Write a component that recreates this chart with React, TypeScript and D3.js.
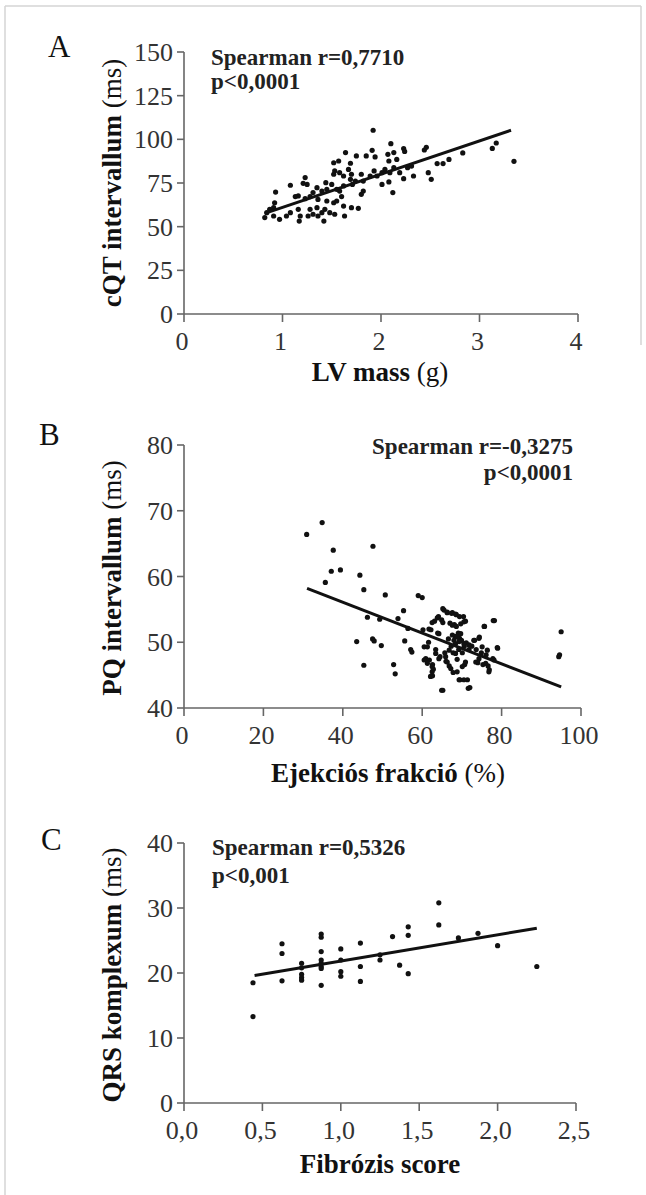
import React from "react";
import * as d3 from "d3";

// ---------- Panel A: LV mass (g) vs cQT (ms)
const aX = [1.92,2.10,2.23,2.24,2.46,2.44,3.13,3.17,3.35,2.83,2.69,2.63,2.57,2.48,2.51,2.33,2.23,2.27,2.31,1.64,1.75,1.85,1.91,1.94,2.07,2.08,2.13,2.16,1.52,1.57,1.69,1.67,1.53,1.52,1.58,1.62,1.70,1.69,1.80,1.82,1.89,1.93,1.96,2.01,2.04,2.09,2.13,2.19,2.01,2.08,2.12,1.82,1.80,1.71,1.74,1.62,1.58,1.60,1.55,1.50,1.44,1.45,1.40,1.35,1.31,1.25,1.21,1.23,1.08,1.16,1.13,1.23,1.28,1.36,1.45,1.52,1.55,0.93,0.92,0.91,0.87,0.84,0.82,0.91,0.97,1.04,1.08,1.16,1.18,1.17,1.26,1.28,1.35,1.36,1.42,1.43,1.48,1.53,1.63,1.62,1.70,1.77,1.31,1.40];
const aY = [105.2,97.5,94.7,93.1,95.4,93.9,94.8,97.9,87.4,92.2,88.5,86.1,86.1,80.9,77.1,79.0,77.5,83.8,84.7,92.4,90.5,90.5,93.7,89.9,91.4,87.6,92.4,88.5,86.6,87.6,86.3,82.8,81.9,80.0,80.9,79.0,80.0,77.1,80.0,76.1,79.0,81.9,79.0,80.9,82.8,80.9,83.8,80.9,74.2,75.6,69.5,70.4,68.5,74.2,76.1,73.3,70.4,67.2,71.4,74.2,75.2,71.4,70.4,72.3,69.5,74.2,74.8,78.1,73.7,67.6,67.2,66.0,67.2,65.6,64.7,63.7,64.7,69.8,63.7,60.9,59.9,58.0,55.2,56.1,54.2,56.1,58.0,59.9,56.1,53.2,56.1,59.9,60.9,56.1,53.2,59.9,58.0,57.1,56.1,61.8,60.9,60.5,57.1,58.0];
const aLineX = [0.82, 3.32];
const aLineY = [57.6, 105.2];
const aXTicks = [0, 1, 2, 3, 4];
const aXTickLabels = ["0", "1", "2", "3", "4"];
const aYTicks = [0, 25, 50, 75, 100, 125, 150];
const aYTickLabels = ["0", "25", "50", "75", "100", "125", "150"];

// ---------- Panel B: Ejection fraction (%) vs PQ (ms)
const bX = [30.9,34.8,35.6,37.1,37.6,39.4,43.5,44.3,45.3,45.3,46.2,47.5,47.6,47.9,49.3,49.7,50.7,52.8,53.2,53.9,55.3,55.6,56.4,57.1,57.4,59.0,60.0,60.2,60.5,60.9,61.6,61.8,62.2,62.6,62.8,62.6,63.1,63.4,63.9,64.1,64.5,64.9,65.2,65.5,65.7,66.0,66.3,66.6,66.8,67.0,67.3,67.6,67.8,67.8,68.1,68.3,68.4,68.6,68.8,69.1,69.2,69.4,69.5,69.7,69.9,70.1,70.4,70.6,70.7,70.9,71.1,71.4,71.8,72.0,72.5,73.2,73.6,74.0,74.4,74.9,75.3,75.7,76.1,76.6,76.9,77.8,78.2,79.0,94.4,94.6,95.0,
  65.2,66.3,67.4,68.4,69.4,70.5,63.8,62.5,65.2,67.6,68.6,75.6,77.9,61.7,64.2,67.6,68.8,69.7,68.0,69.3,70.5,71.8,73.0,74.3,75.1,76.4,78.9,66.8,68.4,65.9,64.2,63.4,61.3,60.5,61.3,62.5,62.5,62.1,66.3,67.2,68.8,70.1,70.9,69.3,70.5,71.6,64.9,73.5,74.3,76.0,76.8,78.1];
const bY = [66.4,68.2,59.1,60.8,64.0,61.0,50.1,60.2,58.0,46.5,53.8,50.5,64.6,50.2,53.5,49.5,57.2,46.6,45.2,53.6,54.8,50.2,52.1,48.9,48.5,57.1,56.8,51.9,49.3,47.5,50.0,47.3,51.9,46.6,45.9,44.9,53.2,48.9,51.4,53.9,47.8,53.4,42.7,54.9,48.4,47.1,54.5,50.5,46.4,52.9,49.4,54.5,48.4,45.4,52.7,50.9,49.8,54.2,47.4,51.4,48.9,50.6,44.3,52.8,50.3,48.4,53.9,49.4,46.6,53.2,49.9,44.3,48.9,43.1,49.4,50.3,48.9,46.9,50.8,48.4,46.6,52.4,48.1,46.4,45.8,47.5,53.3,49.1,47.8,48.1,51.6,
  55.1,54.6,54.4,54.3,53.9,53.1,53.7,53.0,53.0,52.6,52.4,52.4,53.3,52.0,51.3,51.1,50.8,51.3,50.3,50.1,49.8,49.6,50.3,50.6,49.3,48.8,49.2,48.8,48.3,47.8,47.5,48.3,49.3,47.3,46.8,46.3,45.5,44.8,47.0,46.0,45.5,46.3,47.0,44.3,44.3,43.0,42.7,47.0,47.5,46.8,45.5,47.3];
const bLineX = [31, 95];
const bLineY = [58.2, 43.2];
const bXTicks = [0, 20, 40, 60, 80, 100];
const bXTickLabels = ["0", "20", "40", "60", "80", "100"];
const bYTicks = [40, 50, 60, 70, 80];
const bYTickLabels = ["40", "50", "60", "70", "80"];

// ---------- Panel C: Fibrosis score vs QRS (ms)
const cX = [0.44,0.44,0.625,0.625,0.625,0.75,0.75,0.75,0.75,0.75,0.875,0.875,0.875,0.875,0.875,0.875,0.875,0.875,1.0,1.0,1.0,1.0,1.125,1.125,1.125,1.25,1.25,1.33,1.375,1.43,1.43,1.43,1.625,1.625,1.75,1.875,2.0,2.25];
const cY = [18.5,13.3,24.5,23.0,18.8,21.5,20.8,19.8,19.3,18.9,26.0,25.5,23.3,22.0,21.5,21.0,20.7,18.1,23.7,22.0,20.2,19.5,24.6,21.0,18.7,22.8,22.0,25.6,21.2,27.1,25.8,19.9,30.8,27.4,25.4,26.1,24.2,21.0];
const cLineX = [0.45, 2.25];
const cLineY = [19.6, 26.9];
const cXTicks = [0, 0.5, 1, 1.5, 2, 2.5];
const cXTickLabels = ["0,0", "0,5", "1,0", "1,5", "2,0", "2,5"];
const cYTicks = [0, 10, 20, 30, 40];
const cYTickLabels = ["0", "10", "20", "30", "40"];

const FONT = "'Liberation Serif', 'Times New Roman', serif";
const AXIS = "#666";
const INK = "#111";

type PanelProps = {
  letter: string;
  letterX: number;
  letterY: number;
  xDomain: [number, number];
  xRange: [number, number];
  yDomain: [number, number];
  yRange: [number, number];
  xs: number[];
  ys: number[];
  lineX: number[];
  lineY: number[];
  xTicks: number[];
  xTickLabels: string[];
  yTicks: number[];
  yTickLabels: string[];
  xTitleBold: string;
  xTitleReg: string;
  xTitleX: number;
  xTitleY: number;
  yTitleBold: string;
  yTitleReg: string;
  yTitleCY: number;
  stat1: string;
  stat2: string;
  statX: number;
  statY1: number;
  statY2: number;
  statAnchor: "start" | "end";
};

function Panel(p: PanelProps) {
  const x = d3.scaleLinear().domain(p.xDomain).range(p.xRange);
  const y = d3.scaleLinear().domain(p.yDomain).range(p.yRange);
  const x0 = p.xRange[0];
  const yBase = p.yRange[0];
  const lineGen = d3
    .line<number>()
    .x((_, i) => x(p.lineX[i]))
    .y((d) => y(d));
  return (
    <g>
      <text x={p.letterX} y={p.letterY} fontFamily={FONT} fontSize={31} fill={INK}>
        {p.letter}
      </text>
      {/* axes */}
      <line x1={x0} x2={x0} y1={p.yRange[1]} y2={yBase} stroke={AXIS} strokeWidth={1.6} />
      <line x1={x0} x2={p.xRange[1]} y1={yBase} y2={yBase} stroke={AXIS} strokeWidth={1.6} />
      {p.yTicks.map((t, i) => (
        <g key={"y" + i}>
          <line x1={x0 - 7} x2={x0} y1={y(t)} y2={y(t)} stroke={AXIS} strokeWidth={1.6} />
          <text
            x={x0 - 11}
            y={y(t) + 9}
            textAnchor="end"
            fontFamily={FONT}
            fontSize={26}
            fill="#333"
          >
            {p.yTickLabels[i]}
          </text>
        </g>
      ))}
      {p.xTicks.map((t, i) => (
        <g key={"x" + i}>
          <line x1={x(t)} x2={x(t)} y1={yBase} y2={yBase + 8} stroke={AXIS} strokeWidth={1.6} />
          <text
            x={x(t) - 2}
            y={yBase + 36}
            textAnchor="middle"
            fontFamily={FONT}
            fontSize={26}
            fill="#333"
          >
            {p.xTickLabels[i]}
          </text>
        </g>
      ))}
      {/* titles */}
      <text
        x={p.xTitleX}
        y={p.xTitleY}
        textAnchor="middle"
        fontFamily={FONT}
        fontSize={27}
        fill={INK}
      >
        <tspan fontWeight="bold">{p.xTitleBold}</tspan>
        {p.xTitleReg ? <tspan>{" " + p.xTitleReg}</tspan> : null}
      </text>
      <text
        transform={`translate(121,${p.yTitleCY}) rotate(-90)`}
        textAnchor="middle"
        fontFamily={FONT}
        fontSize={27}
        fill={INK}
      >
        <tspan fontWeight="bold">{p.yTitleBold}</tspan>
        <tspan>{" " + p.yTitleReg}</tspan>
      </text>
      {/* stats */}
      <text
        x={p.statX}
        y={p.statY1}
        textAnchor={p.statAnchor}
        fontFamily={FONT}
        fontWeight="bold"
        fontSize={23}
        fill="#222"
      >
        {p.stat1}
      </text>
      <text
        x={p.statX}
        y={p.statY2}
        textAnchor={p.statAnchor}
        fontFamily={FONT}
        fontWeight="bold"
        fontSize={23}
        fill="#222"
      >
        {p.stat2}
      </text>
      {/* points */}
      {p.xs.map((v, i) => (
        <circle key={"p" + i} cx={x(v)} cy={y(p.ys[i])} r={2.6} fill={INK} />
      ))}
      {/* regression line */}
      <path d={lineGen(p.lineY) || ""} stroke={INK} strokeWidth={3} fill="none" />
    </g>
  );
}

export default function App() {
  return (
    <svg
      width={646}
      height={1195}
      style={{ position: "absolute", left: 0, top: 0, background: "#fff" }}
    >
      <rect x={0} y={0} width={646} height={1195} fill="#fff" />
      <line x1={5} x2={641} y1={6} y2={6} stroke="#d4d4d4" strokeWidth={1.5} />
      <line x1={5} x2={5} y1={6} y2={1195} stroke="#d4d4d4" strokeWidth={1.5} />
      <line x1={641} x2={641} y1={6} y2={345} stroke="#d4d4d4" strokeWidth={1.5} />
      <Panel
        letter="A"
        letterX={48}
        letterY={57}
        xDomain={[0, 4]}
        xRange={[184, 578]}
        yDomain={[0, 150]}
        yRange={[314, 52]}
        xs={aX}
        ys={aY}
        lineX={aLineX}
        lineY={aLineY}
        xTicks={aXTicks}
        xTickLabels={aXTickLabels}
        yTicks={aYTicks}
        yTickLabels={aYTickLabels}
        xTitleBold="LV mass"
        xTitleReg="(g)"
        xTitleX={380}
        xTitleY={381}
        yTitleBold="cQT intervallum"
        yTitleReg="(ms)"
        yTitleCY={183}
        stat1="Spearman r=0,7710"
        stat2="p<0,0001"
        statX={211}
        statY1={65}
        statY2={89}
        statAnchor="start"
      />
      <Panel
        letter="B"
        letterX={39}
        letterY={445}
        xDomain={[0, 100]}
        xRange={[184, 581]}
        yDomain={[40, 80]}
        yRange={[708, 445]}
        xs={bX}
        ys={bY}
        lineX={bLineX}
        lineY={bLineY}
        xTicks={bXTicks}
        xTickLabels={bXTickLabels}
        yTicks={bYTicks}
        yTickLabels={bYTickLabels}
        xTitleBold="Ejekciós frakció"
        xTitleReg="(%)"
        xTitleX={388}
        xTitleY={782}
        yTitleBold="PQ intervallum"
        yTitleReg="(ms)"
        yTitleCY={578}
        stat1="Spearman r=-0,3275"
        stat2="p<0,0001"
        statX={573}
        statY1={454}
        statY2={480}
        statAnchor="end"
      />
      <Panel
        letter="C"
        letterX={41}
        letterY={850}
        xDomain={[0, 2.5]}
        xRange={[184, 576]}
        yDomain={[0, 40]}
        yRange={[1103, 843]}
        xs={cX}
        ys={cY}
        lineX={cLineX}
        lineY={cLineY}
        xTicks={cXTicks}
        xTickLabels={cXTickLabels}
        yTicks={cYTicks}
        yTickLabels={cYTickLabels}
        xTitleBold="Fibrózis score"
        xTitleReg=""
        xTitleX={380}
        xTitleY={1173}
        yTitleBold="QRS komplexum"
        yTitleReg="(ms)"
        yTitleCY={975}
        stat1="Spearman r=0,5326"
        stat2="p<0,001"
        statX={212}
        statY1={855}
        statY2={883}
        statAnchor="start"
      />
    </svg>
  );
}
